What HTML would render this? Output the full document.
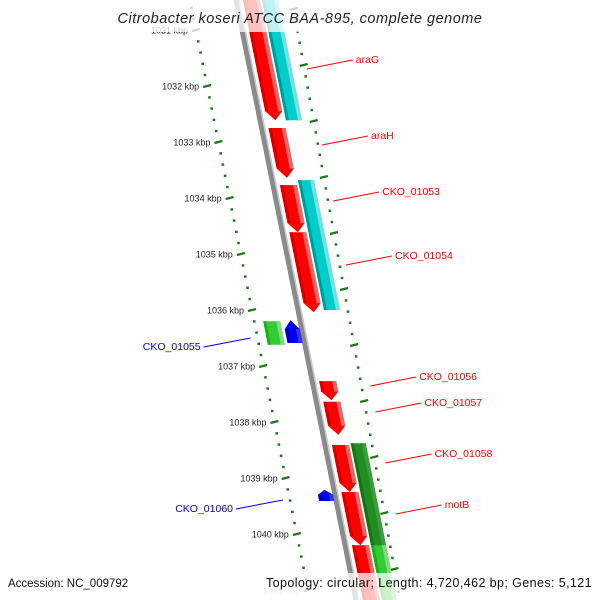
<!DOCTYPE html>
<html><head><meta charset="utf-8"><style>
body{margin:0;background:#fff}
svg{display:block;font-family:"Liberation Sans","DejaVu Sans",sans-serif}
</style></head><body>
<svg id="chart" width="600" height="600" viewBox="0 0 600 600" xmlns="http://www.w3.org/2000/svg">
<g id="scales"></g>
<g id="backbone-g"></g>
<g id="genes"></g>
<g id="labels"></g>
<rect x="0" y="0" width="600" height="32" fill="#fff" opacity="0.75"/>
<text x="300" y="23" text-anchor="middle" font-size="14.5" font-style="italic" letter-spacing="0.5" fill="#222">Citrobacter koseri ATCC BAA-895, complete genome</text>
<rect x="0" y="573" width="600" height="27" fill="#fff" opacity="0.75"/>
<text x="8" y="587" font-size="11.5" fill="#111">Accession: NC_009792</text>
<text x="592" y="587" text-anchor="end" font-size="12.5" letter-spacing="0.4" fill="#111">Topology: circular; Length: 4,720,462 bp; Genes: 5,121</text>
</svg>
<script>
// data
const fwdNames=["araG","araH","CKO_01053","CKO_01054","CKO_01056","CKO_01057","CKO_01058","motB","next-gene"];
const fwdStart=[1029.9,1032.75,1033.77,1034.61,1037.27,1037.64,1038.41,1039.25,1040.2];
const fwdEnd=[1032.61,1033.64,1034.61,1036.04,1037.61,1038.23,1039.25,1040.2,1041.6];
const cdsStart=[1029.9,1033.68];
const cdsEnd=[1032.61,1036.0];
const cdsColors=["#00cccc","#00cccc"];
const fwd2Start=[1038.38,1040.2];
const fwd2End=[1040.7,1041.6];
const fwd2Colors=["#228b22","#33cc33"];
const revNames=["CKO_01055","CKO_01060"];
const revStart=[1036.18,1039.21];
const revEnd=[1036.59,1039.41];
const revGreenStart=[1036.2];
const revGreenEnd=[1036.62];
const kbpTicks=[1031,1032,1033,1034,1035,1036,1037,1038,1039,1040,1041];
const labelY=[59,135,191,255,376,402,453,504];

const NS="http://www.w3.org/2000/svg";
const Y=k=>30+(k-1031)*56;
const BX=y=>237+0.2*y;
const RX=y=>292+0.18*y;
function mk(tag,attrs,parent){const e=document.createElementNS(NS,tag);for(const k in attrs)e.setAttribute(k,attrs[k]);parent.appendChild(e);return e;}
const scales=document.getElementById('scales'),bb=document.getElementById('backbone-g'),genes=document.getElementById('genes'),labels=document.getElementById('labels');

// backbone
let l=mk('line',{x1:BX(-10)-1,y1:-10,x2:BX(610)-1,y2:610,stroke:'#8a8a8a','stroke-width':5},bb);


mk('line',{x1:BX(-10)+2,y1:-10,x2:BX(610)+2,y2:610,stroke:'#c8c8c8','stroke-width':1.5},bb);

// scales
function scale(xf,majorOff,name){
  for(let k=1029;k<=1042;k+=0.2){
    const y=Y(k)+majorOff; if(y<-5||y>605)continue;
    const x=xf(y);
    const major=Math.abs(k-Math.round(k))<0.01;
    let t;
    if(major){t=mk('line',{x1:x-4,y1:y+1,x2:x+4,y2:y-1,stroke:'#1a7a1a','stroke-width':2.2},scales);}
    else{t=mk('rect',{x:x-1.3,y:y-1,width:2.6,height:2.4,fill:'#1a7a1a'},scales);}
    
    
  }
}
scale(y=>190+0.2*y,0,'left-scale');
scale(RX,35,'right-scale');
kbpTicks.forEach(k=>{
  const y=Y(k);const x=190+0.2*y;
  const t=mk('text',{x:x-8,y:y+3.5,'text-anchor':'end','font-size':'9','fill':k===1041?'#bbb':'#222'},scales);
  t.textContent=k+' kbp';
  
  
});

function feature(ks,ke,a,b,color,dir,name,light,dark){
  const y1=Y(ks),y2=Y(ke),tip=dir===0?0:Math.min(9,(y2-y1)*0.45);
  const P=(o,y)=>(BX(y)+o).toFixed(1)+','+y.toFixed(1);
  const m=(a+b)/2;let pts;
  if(dir>0)pts=[P(a,y1),P(b,y1),P(b,y2-tip),P(m,y2),P(a,y2-tip)];
  else if(dir<0)pts=[P(a,y1+tip),P(m,y1),P(b,y1+tip),P(b,y2),P(a,y2)];
  else pts=[P(a,y1),P(b,y1),P(b,y2),P(a,y2)];
  const g=mk('g',{},genes);
  
  
  mk('polygon',{points:pts.join(' '),fill:color},g);
  const t1=y1+(dir<0?tip:0),t2=y2-(dir>0?tip:0);
  if(light){mk('polygon',{points:[P(b-4,t1),P(b,t1),P(b,t2),P(b-4,t2)].join(' '),fill:light},g);}
  if(dark){mk('polygon',{points:[P(a,t1),P(a+3,t1),P(a+3,t2),P(a,t2)].join(' '),fill:dark},g);}
}
fwdStart.forEach((s,i)=>feature(s,fwdEnd[i],6,23,'#ff0000',1,'gene-'+fwdNames[i],'#ff6060','#cc0000'));
cdsStart.forEach((s,i)=>feature(s,cdsEnd[i],25,41,cdsColors[i],0,'cds-bar','#66e6e6','#009999'));
fwd2Start.forEach((s,i)=>feature(s,fwd2End[i],25,40,fwd2Colors[i],0,'cds-bar-green',i?'#77e077':'#35a035',i?'#22aa22':'#1a6e1a'));
revGreenStart.forEach((s,i)=>feature(s,revGreenEnd[i],-38,-21,'#33cc33',0,'rev-cds-bar','#77e077','#22aa22'));
revStart.forEach((s,i)=>feature(s,revEnd[i],-18,-3,'#0000ee',-1,'gene-'+revNames[i],'#3333ff','#0000aa'));

// labels
fwdNames.slice(0,8).forEach((n,i)=>{
  const ly=labelY[i];
  const x0=293+0.2*(ly+10);
  const lx=x0+46;
  const ln=mk('line',{x1:x0,y1:ly+10,x2:lx,y2:ly+1,stroke:'#ff0000','stroke-width':1},labels);
  
  
  const t=mk('text',{x:lx+3,y:ly+4,'font-size':'10.5',fill:'#ff0000'},labels);
  t.textContent=n;
  
  
});
const revLabelY=[347,509];
revNames.forEach((n,i)=>{
  const ly=revLabelY[i];const xe=BX(ly-9)-54;
  const ln=mk('line',{x1:xe-47,y1:ly,x2:xe,y2:ly-9,stroke:'#0000ee','stroke-width':1},labels);
  
  
  const t=mk('text',{x:xe-50,y:ly+3,'text-anchor':'end','font-size':'10.5',fill:'#0000ee'},labels);
  t.textContent=n;
  
  
});
</script>
</body></html>
